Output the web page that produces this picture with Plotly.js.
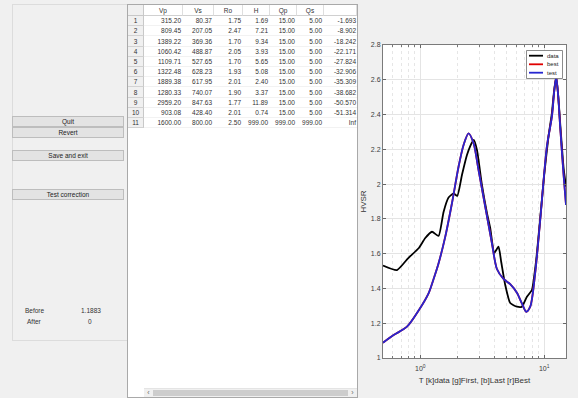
<!DOCTYPE html>
<html><head><meta charset="utf-8">
<script src="https://cdn.plot.ly/plotly-3.0.1.min.js"></script>
<style>
body{margin:0;width:578px;height:398px;overflow:hidden;background:#f0f0f0;font-family:"Liberation Sans",Arial,sans-serif;position:relative;color:#222}
.a{position:absolute;white-space:nowrap}
.btn{position:absolute;left:12px;width:110px;height:9px;background:#e3e3e3;border:1px solid #bdbdbd;font-size:6.5px;line-height:9px;text-align:center;color:#222}
.lbl{position:absolute;font-size:6.5px;line-height:8px;color:#333}
#tbl{position:absolute;left:127px;top:4px;width:229px;height:392px;border:1px solid #a9a9a9;background:#fff;overflow:hidden}
.c{position:absolute;font-size:6.5px;color:#333;box-sizing:border-box;white-space:nowrap}
</style></head>
<body>
<div class="a" style="left:12px;top:4px;width:114px;height:335px;border-left:1px solid #dcdcdc;border-top:1px solid #dcdcdc;border-bottom:1px solid #dcdcdc"></div>
<div id="buttons"></div>
<div id="tbl"></div>
<div id="chart" style="position:absolute;left:358px;top:0;width:220px;height:398px"></div>
<script>
// ---- GUI data ----
const buttonLabels = ['Quit','Revert','Save and exit','Test correction'];
const buttonTops = [116,127,150,189];
const colNames = ['Vp','Vs','Ro','H','Qp','Qs',''];
const Vp = [315.20,809.45,1389.22,1060.42,1109.71,1322.48,1889.38,1280.33,2959.20,903.08,1600.00];
const Vs = [80.37,207.05,369.36,488.87,527.65,628.23,617.95,740.07,847.63,428.40,800.00];
const Ro = [1.75,2.47,1.70,2.05,1.70,1.93,2.01,1.90,1.77,2.01,2.50];
const Hth = [1.69,7.21,9.34,3.93,5.65,5.08,2.40,3.37,11.89,0.74,999.00];
const Qp = [15,15,15,15,15,15,15,15,15,15,999];
const Qs = [5,5,5,5,5,5,5,5,5,5,999];
const Depth = [-1.693,-8.902,-18.242,-22.171,-27.824,-32.906,-35.309,-38.682,-50.570,-51.314,Infinity];
const misfitLabels = ['Before','After'];
const misfitValues = ['1.1883','0'];

// ---- chart data ----
const T_data = [0.500,0.649,0.800,0.969,1.097,1.243,1.405,1.541,1.691,1.856,1.988,2.169,2.380,2.530,2.701,2.867,3.145,3.451,3.668,3.953,4.280,4.500,4.848,5.319,6.024,6.609,7.252,7.957,8.62,9.29,10.0,10.83,11.54,12.04,12.50,12.97,13.46,14.31,15.0];
const H_data = [1.532,1.506,1.575,1.631,1.690,1.726,1.702,1.840,1.923,1.946,1.932,2.052,2.167,2.219,2.254,2.196,1.995,1.834,1.748,1.604,1.640,1.552,1.420,1.316,1.295,1.295,1.352,1.391,1.564,1.805,2.052,2.273,2.409,2.541,2.616,2.512,2.351,2.100,1.985];
const T_test = [0.500,0.609,0.781,0.969,1.166,1.273,1.405,1.591,1.801,2.036,2.235,2.452,2.691,2.952,3.344,3.786,4.155,4.697,5.319,6.024,6.609,7.158,7.712,8.462,9.29,10.51,11.54,12.04,12.50,12.97,13.46,14.31,15.0];
const H_test = [1.088,1.132,1.180,1.273,1.372,1.449,1.545,1.698,1.890,2.100,2.225,2.292,2.235,2.081,1.870,1.660,1.512,1.455,1.425,1.375,1.314,1.266,1.295,1.489,1.794,2.215,2.388,2.530,2.616,2.507,2.330,2.062,1.880];
const H_best = H_test.slice();
const seriesNames = ['data','best','test'];
const seriesColors = ['#000000','#e00000','#2626d0'];

// ---- build GUI ----
const bdiv = document.getElementById('buttons');
buttonLabels.forEach((t,i)=>{
  const d=document.createElement('div');d.className='btn';d.style.top=buttonTops[i]+'px';d.textContent=t;bdiv.appendChild(d);
});
[[25,307],[27,318]].forEach((p,i)=>{
  const l=document.createElement('div');l.className='lbl';l.style.left=p[0]+'px';l.style.top=p[1]+'px';l.textContent=misfitLabels[i];document.body.appendChild(l);
});
[[81,307],[88,318]].forEach((p,i)=>{
  const l=document.createElement('div');l.className='lbl';l.style.left=p[0]+'px';l.style.top=p[1]+'px';l.textContent=misfitValues[i];document.body.appendChild(l);
});

const tbl = document.getElementById('tbl');
const bounds = [0,16,55,86,115,142,169,196,229];
const cols = [Vp,Vs,Ro,Hth,Qp,Qs,Depth];
function cell(l,t,w,h,txt,css){const d=document.createElement('div');d.className='c';d.style.cssText+=`left:${l}px;top:${t}px;width:${w}px;height:${h}px;line-height:${h}px;`+css;if(txt)d.textContent=txt;tbl.appendChild(d);}
// header
cell(0,0,16,11,'','background:#f0f0f0;border-right:1px solid #c8c8c8;border-bottom:1px solid #c8c8c8;');
colNames.forEach((n,j)=>cell(bounds[j+1],0,bounds[j+2]-bounds[j+1],11,n,'text-align:center;border-right:1px solid #dedede;border-bottom:1px solid #d0d0d0;'));
for(let r=0;r<11;r++){
  const top=11+Math.round(r*10.2), h=Math.round((r+1)*10.2)-Math.round(r*10.2);
  cell(0,top,16,h,String(r+1),'text-align:center;background:#f0f0f0;border-right:1px solid #c8c8c8;border-bottom:1px solid #d2d2d2;');
  cols.forEach((arr,j)=>{
    const v=arr[r];
    const txt = j===6 ? (isFinite(v)? v.toFixed(3) : 'Inf') : v.toFixed(2);
    cell(bounds[j+1],top,bounds[j+2]-bounds[j+1],h,txt,'text-align:right;padding-right:'+(j===6?1:2)+'px;border-bottom:1px solid #f2f2f2;');
  });
}
// horizontal scrollbar
cell(16,383,213,9,'','background:#f0f0f0;border-top:1px solid #e4e4e4;');
cell(16,383,9,9,'\u2039','text-align:center;font-size:7px;color:#666;');
cell(25,384.5,195,6,'','background:#cdcdcd;');
cell(220,383,9,9,'\u203A','text-align:center;font-size:7px;color:#666;');

// ---- chart ----
const L=383,R=566,TOP=45,BOT=358;
const px=x=>(x-L)/(R-L), py=y=>1-(y-TOP)/(BOT-TOP);
const traces=[
  {x:T_data,y:H_data,name:seriesNames[0],mode:'lines',line:{color:seriesColors[0],width:1.8,shape:'spline',smoothing:0.5}},
  {x:T_test,y:H_best,name:seriesNames[1],mode:'lines',line:{color:seriesColors[1],width:1.8,shape:'spline',smoothing:0.8}},
  {x:T_test,y:H_test,name:seriesNames[2],mode:'lines',line:{color:seriesColors[2],width:1.8,shape:'spline',smoothing:0.8}}
];
const shapes=[{type:'rect',xref:'paper',yref:'paper',x0:px(526.5),x1:px(562.5),y0:py(78.5),y1:py(50.5),fillcolor:'#ffffff',line:{color:'#6e6e6e',width:0.8}}];
const annotations=[];
const rowsY=[55.7,64.3,72.7];
seriesNames.forEach((n,i)=>{
  shapes.push({type:'line',xref:'paper',yref:'paper',x0:px(529),x1:px(543),y0:py(rowsY[i]),y1:py(rowsY[i]),line:{color:seriesColors[i],width:1.8}});
  annotations.push({xref:'paper',yref:'paper',x:px(544.5),y:py(rowsY[i]),text:n,showarrow:false,xanchor:'left',yanchor:'middle',font:{size:6,color:'#222'}});
});
const layout={
  width:220,height:398,margin:{l:25,r:12,t:45,b:40},
  paper_bgcolor:'rgba(0,0,0,0)',plot_bgcolor:'#ffffff',showlegend:false,
  font:{family:'Liberation Sans, Arial, sans-serif',size:7,color:'#3a3a3a'},
  xaxis:{type:'log',range:[Math.log10(0.5),Math.log10(15)],tickmode:'array',tickvals:[1,10],ticktext:['10<sup>0</sup>','10<sup>1</sup>'],
    ticks:'inside',ticklen:3,tickcolor:'#666',showline:true,linecolor:'#7a7a7a',linewidth:1,mirror:'allticks',
    showgrid:true,gridcolor:'#e4e4e4',zeroline:false,tickfont:{size:7},ticklabelstandoff:4,
    minor:{tickmode:'array',tickvals:[0.6,0.7,0.8,0.9,2,3,4,5,6,7,8,9],ticks:'inside',ticklen:2,tickcolor:'#777',showgrid:true,gridcolor:'#e6e6e6',griddash:'dot',gridwidth:1},
    title:{text:'T [k]data [g]First, [b]Last [r]Best',font:{size:8,color:'#333'},standoff:5}},
  yaxis:{range:[1,2.8],tick0:1,dtick:0.2,ticks:'inside',ticklen:3,tickcolor:'#666',showline:true,linecolor:'#7a7a7a',linewidth:1,mirror:'allticks',
    showgrid:true,gridcolor:'#e4e4e4',zeroline:false,tickfont:{size:7},
    title:{text:'HVSR',font:{size:8,color:'#333'},standoff:3}},
  shapes:shapes,annotations:annotations
};
Plotly.newPlot('chart',traces,layout,{displayModeBar:false,staticPlot:true});
</script>
</body></html>
